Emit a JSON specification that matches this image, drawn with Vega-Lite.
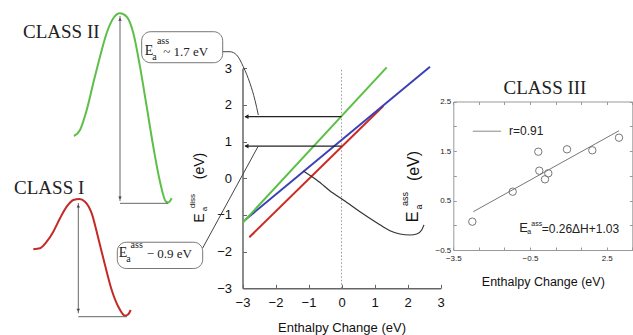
{
  "$schema": "https://vega.github.io/schema/vega-lite/v6.json",
  "width": 633,
  "height": 335,
  "autosize": "none",
  "padding": 0,
  "background": "white",
  "config": {
    "view": {"stroke": null},
    "font": "Liberation Sans",
    "axis": {"grid": false, "labelFlush": false, "labelOverlap": false, "labelFont": "Liberation Sans", "titleFont": "Liberation Sans"}
  },
  "resolve": {"scale": {"x": "independent", "y": "independent", "color": "independent", "shape": "independent"}},
  "layer": [
    {
      "encoding": {
        "x": {"field": "x", "type": "quantitative",
          "scale": {"domain": [-3, 3], "range": [242.5, 440.5], "nice": false, "zero": false},
          "axis": {"orient": "bottom", "offset": -46.7, "values": [-3, -2, -1, 0, 1, 2, 3], "format": "d",
            "domainColor": "#666", "domainWidth": 1.5, "tickColor": "#666", "tickSize": -4, "labelPadding": 12,
            "labelFontSize": 13, "labelColor": "#111", "title": "Enthalpy Change (eV)", "titleFontSize": 13,
            "titleFontWeight": "normal", "titleColor": "#111", "titleY": 39, "titleBaseline": "middle"}},
        "y": {"field": "y", "type": "quantitative",
          "scale": {"domain": [-3, 3], "range": [288.3, 68.3], "nice": false, "zero": false},
          "axis": {"orient": "left", "offset": -242.5, "values": [-3, -2, -1, 0, 1, 2, 3], "format": "d",
            "domainColor": "#666", "domainWidth": 1.5, "tickColor": "#666", "tickSize": -4, "labelPadding": 15,
            "labelFontSize": 13, "labelColor": "#111", "title": null}}
      },
      "layer": [
        {
          "data": {"values": [{"x": 0, "y": -3, "y2": 3}]},
          "mark": {"type": "rule", "color": "#999", "strokeDash": [1.5, 2], "strokeWidth": 1},
          "encoding": {"y2": {"field": "y2"}}
        },
        {
          "data": {"values": [
            {"s": "red", "x": -2.794, "y": -1.609}, {"s": "red", "x": 1.267, "y": 1.972},
            {"s": "blue", "x": -2.924, "y": -1.137}, {"s": "blue", "x": 2.682, "y": 3.043},
            {"s": "green", "x": -2.994, "y": -1.211}, {"s": "green", "x": 1.37, "y": 3.027}
          ]},
          "mark": {"type": "line", "strokeWidth": 2},
          "encoding": {"color": {"field": "s", "type": "nominal",
            "scale": {"domain": ["green", "blue", "red"], "range": ["#5cbf46", "#3b40b4", "#cc2a22"]}, "legend": null}}
        },
        {
          "data": {"values": [
            {"x": -1.158, "y": 0.2}, {"x": -0.752, "y": -0.046}, {"x": -0.248, "y": -0.41}, {"x": 0.055, "y": -0.59},
            {"x": 0.56, "y": -0.91}, {"x": 1.067, "y": -1.21}, {"x": 1.47, "y": -1.43}, {"x": 1.77, "y": -1.52},
            {"x": 2.076, "y": -1.546}, {"x": 2.28, "y": -1.52}, {"x": 2.43, "y": -1.41}, {"x": 2.5, "y": -1.27}
          ]},
          "mark": {"type": "line", "color": "#333", "strokeWidth": 1.2, "interpolate": "monotone"}
        },
        {
          "data": {"values": [{"x": 0, "x2": -2.92, "y": 1.68}, {"x": 0, "x2": -2.92, "y": 0.88}]},
          "mark": {"type": "rule", "color": "#222", "strokeWidth": 1.2},
          "encoding": {"x2": {"field": "x2"}}
        },
        {
          "data": {"values": [{"x": -2.88, "y": 1.68}, {"x": -2.88, "y": 0.88}]},
          "mark": {"type": "point", "shape": "triangle-left", "filled": true, "size": 22, "color": "#222", "opacity": 1}
        },
        {
          "data": {"values": [
            {"c": "top", "x": -3.6, "y": 3.452}, {"c": "top", "x": -3.379, "y": 3.452}, {"c": "top", "x": -3.176, "y": 3.362},
            {"c": "top", "x": -2.976, "y": 3.043}, {"c": "top", "x": -2.773, "y": 2.591}, {"c": "top", "x": -2.621, "y": 2.127},
            {"c": "top", "x": -2.521, "y": 1.726},
            {"c": "bot", "x": -4.206, "y": -1.901}, {"c": "bot", "x": -2.521, "y": 0.881}
          ]},
          "mark": {"type": "line", "color": "#444", "strokeWidth": 1, "interpolate": "monotone"},
          "encoding": {"detail": {"field": "c"}}
        },
        {
          "data": {"values": [
            {"x": -6.055, "x2": -3.6, "y": 3.998, "y2": 3.152},
            {"x": -6.794, "x2": -4.206, "y": -1.744, "y2": -2.46}
          ]},
          "mark": {"type": "rect", "fill": "white", "stroke": "#777", "strokeWidth": 1, "cornerRadius": 9},
          "encoding": {"x2": {"field": "x2"}, "y2": {"field": "y2"}}
        },
        {
          "data": {"values": [{"x": -5.833, "y": 3.47, "t": "E"}, {"x": -6.621, "y": -2.05, "t": "E"}]},
          "mark": {"type": "text", "font": "Liberation Serif", "fontSize": 14, "align": "center", "baseline": "middle", "color": "#222"},
          "encoding": {"text": {"field": "t"}}
        },
        {
          "data": {"values": [
            {"x": -5.667, "y": 3.3, "t": "a"}, {"x": -5.409, "y": 3.744, "t": "ass"},
            {"x": -6.455, "y": -2.2, "t": "a"}, {"x": -6.206, "y": -1.83, "t": "ass"}
          ]},
          "mark": {"type": "text", "font": "Liberation Serif", "fontSize": 10, "align": "center", "baseline": "middle", "color": "#222"},
          "encoding": {"text": {"field": "t"}}
        },
        {
          "data": {"values": [{"x": -5.4, "y": 3.452, "t": "~ 1.7 eV"}, {"x": -5.903, "y": -2.073, "t": "− 0.9 eV"}]},
          "mark": {"type": "text", "font": "Liberation Serif", "fontSize": 13, "align": "left", "baseline": "middle", "color": "#222"},
          "encoding": {"text": {"field": "t"}}
        },
        {
          "data": {"values": [{"x": -4.288, "y": -1.083, "t": "E"}, {"x": -4.288, "y": 0.335, "t": "(eV)"}]},
          "mark": {"type": "text", "fontSize": 14, "angle": 270, "align": "center", "baseline": "middle", "color": "#111"},
          "encoding": {"text": {"field": "t"}}
        },
        {
          "data": {"values": [{"x": -4.136, "y": -0.84, "t": "a"}, {"x": -4.5, "y": -0.62, "t": "diss"}]},
          "mark": {"type": "text", "fontSize": 8, "angle": 270, "align": "center", "baseline": "middle", "color": "#111"},
          "encoding": {"text": {"field": "t"}}
        }
      ]
    },
    {
      "data": {"values": [{"x": -2.718, "y": 0.274}, {"x": 2.98, "y": 1.91}]},
      "mark": {"type": "line", "color": "#777", "strokeWidth": 1},
      "encoding": {
        "x": {"field": "x", "type": "quantitative",
          "scale": {"domain": [-3.5, 3.5], "range": [453.3, 632.3], "nice": false, "zero": false},
          "axis": {"orient": "top", "offset": -101.5, "values": [-3.5, -2.5, -1.5, -0.5, 0.5, 1.5, 2.5, 3.5],
            "labels": false, "domainColor": "#999", "tickColor": "#999", "tickSize": -3, "title": null}},
        "y": {"field": "y", "type": "quantitative",
          "scale": {"domain": [-0.5, 2.5], "range": [250, 101.5], "nice": false, "zero": false},
          "axis": {"orient": "right", "offset": -0.7, "values": [-0.5, 0, 0.5, 1, 1.5, 2, 2.5],
            "labels": false, "domainColor": "#999", "tickColor": "#999", "tickSize": -3, "title": null}}
      }
    },
    {
      "encoding": {
        "x": {"field": "x", "type": "quantitative",
          "scale": {"domain": [-3.5, 3.5], "range": [453.3, 632.3], "nice": false, "zero": false},
          "axis": {"orient": "bottom", "offset": -85, "values": [-3.5, -2.5, -1.5, -0.5, 0.5, 1.5, 2.5, 3.5], "format": ".1f",
            "labelExpr": "(datum.value == -3.5 || datum.value == -0.5 || datum.value == 2.5) ? datum.label : ''",
            "domainColor": "#999", "tickColor": "#999", "tickSize": -3, "labelPadding": 7, "labelFontSize": 8, "labelColor": "#222",
            "title": "Enthalpy Change (eV)", "titleFontSize": 12.5, "titleFontWeight": "normal", "titleColor": "#111",
            "titleY": 31.7, "titleBaseline": "middle"}},
        "y": {"field": "y", "type": "quantitative",
          "scale": {"domain": [-0.5, 2.5], "range": [250, 101.5], "nice": false, "zero": false},
          "axis": {"orient": "left", "offset": -453.3, "values": [-0.5, 0, 0.5, 1, 1.5, 2, 2.5], "format": ".1f",
            "labelExpr": "(datum.value == -0.5 || datum.value == 0.5 || datum.value == 1.5 || datum.value == 2.5) ? datum.label : ''",
            "domainColor": "#999", "tickColor": "#999", "tickSize": -3, "labelPadding": 5.5, "labelFontSize": 8, "labelColor": "#222",
            "title": null}}
      },
      "layer": [
        {
          "data": {"values": [
            {"x": -2.757, "y": 0.072}, {"x": -1.177, "y": 0.678}, {"x": -0.176, "y": 1.486},
            {"x": -0.137, "y": 1.102}, {"x": 0.215, "y": 1.05}, {"x": 0.086, "y": 0.928},
            {"x": 0.947, "y": 1.534}, {"x": 1.936, "y": 1.514}, {"x": 2.98, "y": 1.769}
          ]},
          "mark": {"type": "point", "shape": "circle", "filled": false, "size": 55, "color": "#777", "strokeWidth": 1, "opacity": 1}
        },
        {
          "data": {"values": [{"x": -2.74, "x2": -1.63, "y": 1.9}]},
          "mark": {"type": "rule", "color": "#888", "strokeWidth": 1},
          "encoding": {"x2": {"field": "x2"}}
        },
        {
          "data": {"values": [{"x": -1.32, "y": 1.9, "t": "r=0.91"}, {"x": -0.043, "y": -0.076, "t": "=0.26ΔH+1.03"}]},
          "mark": {"type": "text", "fontSize": 12, "align": "left", "baseline": "middle", "color": "#222"},
          "encoding": {"text": {"field": "t"}}
        },
        {
          "data": {"values": [{"x": -0.747, "y": -0.056, "t": "E"}]},
          "mark": {"type": "text", "fontSize": 13, "align": "center", "baseline": "middle", "color": "#222"},
          "encoding": {"text": {"field": "t"}}
        },
        {
          "data": {"values": [{"x": -0.528, "y": -0.14, "t": "a"}, {"x": -0.238, "y": 0.03, "t": "ass"}]},
          "mark": {"type": "text", "fontSize": 7, "align": "center", "baseline": "middle", "color": "#222"},
          "encoding": {"text": {"field": "t"}}
        },
        {
          "data": {"values": [{"x": 0.086, "y": 2.773, "t": "CLASS III"}]},
          "mark": {"type": "text", "font": "Liberation Serif", "fontSize": 19, "align": "center", "baseline": "middle", "color": "#222"},
          "encoding": {"text": {"field": "t"}}
        },
        {
          "data": {"values": [{"x": -5.076, "y": 0.167, "t": "E"}, {"x": -5.037, "y": 1.197, "t": "(eV)"}]},
          "mark": {"type": "text", "fontSize": 16, "angle": 270, "align": "center", "baseline": "middle", "color": "#111"},
          "encoding": {"text": {"field": "t"}}
        },
        {
          "data": {"values": [{"x": -4.841, "y": 0.37, "t": "a"}, {"x": -5.389, "y": 0.53, "t": "ass"}]},
          "mark": {"type": "text", "fontSize": 9, "angle": 270, "align": "center", "baseline": "middle", "color": "#111"},
          "encoding": {"text": {"field": "t"}}
        }
      ]
    },
    {
      "encoding": {
        "x": {"field": "x", "type": "quantitative", "scale": {"domain": [0, 10], "range": [0, 200], "nice": false, "zero": false}, "axis": null},
        "y": {"field": "y", "type": "quantitative", "scale": {"domain": [0, 10], "range": [330, 0], "nice": false, "zero": false}, "axis": null}
      },
      "layer": [
        {
          "data": {"values": [
            {"c": "II", "x": 3.7, "y": 5.879}, {"c": "II", "x": 4.0, "y": 6.061}, {"c": "II", "x": 4.335, "y": 6.667},
            {"c": "II", "x": 4.665, "y": 7.485}, {"c": "II", "x": 5.0, "y": 8.282}, {"c": "II", "x": 5.335, "y": 9.0},
            {"c": "II", "x": 5.665, "y": 9.445}, {"c": "II", "x": 6.0, "y": 9.597}, {"c": "II", "x": 6.335, "y": 9.494},
            {"c": "II", "x": 6.665, "y": 9.0}, {"c": "II", "x": 7.0, "y": 7.979}, {"c": "II", "x": 7.335, "y": 6.767},
            {"c": "II", "x": 7.665, "y": 5.555}, {"c": "II", "x": 8.0, "y": 4.494}, {"c": "II", "x": 8.3, "y": 3.888},
            {"c": "II", "x": 8.415, "y": 3.864}, {"c": "II", "x": 8.585, "y": 3.991},
            {"c": "I", "x": 1.665, "y": 2.445}, {"c": "I", "x": 2.0, "y": 2.476}, {"c": "I", "x": 2.335, "y": 2.676},
            {"c": "I", "x": 2.665, "y": 2.979}, {"c": "I", "x": 3.0, "y": 3.385}, {"c": "I", "x": 3.335, "y": 3.736},
            {"c": "I", "x": 3.665, "y": 3.939}, {"c": "I", "x": 3.965, "y": 3.97}, {"c": "I", "x": 4.25, "y": 3.888},
            {"c": "I", "x": 4.585, "y": 3.536}, {"c": "I", "x": 4.915, "y": 2.779}, {"c": "I", "x": 5.25, "y": 1.97},
            {"c": "I", "x": 5.585, "y": 1.212}, {"c": "I", "x": 5.915, "y": 0.706}, {"c": "I", "x": 6.25, "y": 0.433},
            {"c": "I", "x": 6.415, "y": 0.476}, {"c": "I", "x": 6.535, "y": 0.606}
          ]},
          "mark": {"type": "line", "strokeWidth": 2, "interpolate": "monotone"},
          "encoding": {
            "detail": {"field": "c"},
            "color": {"field": "c", "type": "nominal", "scale": {"domain": ["II", "I"], "range": ["#5dbf48", "#c42a25"]}, "legend": null}
          }
        },
        {
          "data": {"values": [
            {"x": 6.0, "x2": 6.0, "y": 3.909, "y2": 9.515},
            {"x": 6.0, "x2": 8.4, "y": 3.839, "y2": 3.839},
            {"x": 3.915, "x2": 3.915, "y": 0.506, "y2": 3.848},
            {"x": 3.915, "x2": 6.35, "y": 0.403, "y2": 0.403}
          ]},
          "mark": {"type": "rule", "color": "#666", "strokeWidth": 1},
          "encoding": {"x2": {"field": "x2"}, "y2": {"field": "y2"}}
        },
        {
          "data": {"values": [
            {"x": 6.0, "y": 9.42, "d": "up"}, {"x": 6.0, "y": 4.0, "d": "down"},
            {"x": 3.915, "y": 3.76, "d": "up"}, {"x": 3.915, "y": 0.6, "d": "down"}
          ]},
          "mark": {"type": "point", "filled": true, "size": 12, "color": "#444", "opacity": 1},
          "encoding": {"shape": {"field": "d", "type": "nominal", "scale": {"domain": ["up", "down"], "range": ["triangle-up", "triangle-down"]}, "legend": null}}
        },
        {
          "data": {"values": [{"x": 3.065, "y": 9.04, "t": "CLASS II"}, {"x": 2.46, "y": 4.294, "t": "CLASS I"}]},
          "mark": {"type": "text", "font": "Liberation Serif", "fontSize": 19, "align": "center", "baseline": "middle", "color": "#222"},
          "encoding": {"text": {"field": "t"}}
        }
      ]
    }
  ]
}
